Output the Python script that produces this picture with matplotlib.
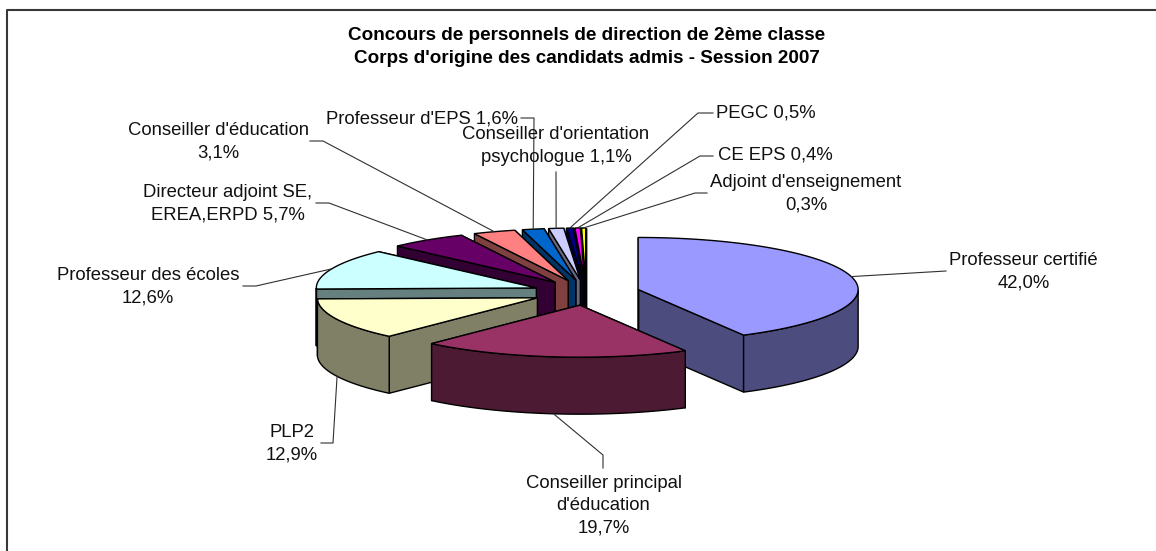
import numpy as np
import matplotlib
matplotlib.use('Agg')
import matplotlib.pyplot as plt
from matplotlib.patches import Polygon

plt.rcParams['font.family'] = ['Liberation Sans', 'DejaVu Sans']

title = "Concours de personnels de direction de 2ème classe\nCorps d'origine des candidats admis - Session 2007"

labels = ["Professeur certifié\n42,0%",
          "Conseiller principal\nd'éducation\n19,7%",
          "PLP2\n12,9%",
          "Professeur des écoles\n12,6%",
          "Directeur adjoint SE,\nEREA,ERPD 5,7%",
          "Conseiller d'éducation\n3,1%",
          "Professeur d'EPS 1,6%",
          "Conseiller d'orientation\npsychologue 1,1%",
          "PEGC 0,5%",
          "CE EPS 0,4%",
          "Adjoint d'enseignement\n0,3%"]
values = [42.0, 19.7, 12.9, 12.6, 5.7, 3.1, 1.6, 1.1, 0.5, 0.4, 0.3]
top_colors = ['#9999FF', '#993366', '#FFFFCC', '#CCFFFF', '#660066', '#FF8080',
              '#0066CC', '#CCCCFF', '#000080', '#FF00FF', '#FFFF00']
side_colors = ['#4C4C7F', '#4D1A33', '#808066', '#668080', '#330033', '#804040',
               '#003366', '#666680', '#000040', '#800080', '#808000']

# label centres and the leader line bends, in pixels
label_pos = [(1023.5, 272), (603.5, 505.5), (292, 443.5), (148, 286.5), (228, 204), (218, 141.5),
             (422, 118.5), (556, 146), (766, 112.5), (775.5, 155.5), (806, 193.5)]
leader_pts = [[(946, 271)], [(603, 455), (603, 468)], [(333, 443), (321, 443)],
              [(256, 286), (243, 286)], [(329, 203), (316, 203)], [(323, 141), (310, 141)],
              [(534, 118), (521, 118)], [(556, 172)], [(698, 113), (713, 113)],
              [(700, 156), (713, 156)], [(695, 193), (707, 193)]]

cx, cy = 586.2, 292.6
rx, ry = 220, 52
depth = 57
explode = 53.6  # along x, scaled by ry/rx on y

fig = plt.figure(figsize=(11.56, 5.51), dpi=100)
ax = fig.add_axes([0, 0, 1, 1])
ax.set_xlim(0, 1156)
ax.set_ylim(551, 0)
ax.axis('off')

# chart border, right and bottom sides are cut off in the original
ax.plot([7, 7, 1156], [551, 10, 10], color='#383838', lw=1.5, clip_on=False)

angles = np.cumsum([0] + values) / sum(values) * 2 * np.pi
edge = dict(edgecolor='black', linewidth=1.0, joinstyle='miter')


def on_rim(x0, y0, a):
    return x0 + rx * np.sin(a), y0 - ry * np.cos(a)


anchors = []
slices = []
for i in range(len(values)):
    a0, a1 = angles[i], angles[i + 1]
    mid = (a0 + a1) / 2
    x0 = cx + explode * np.sin(mid)
    y0 = cy - explode * ry / rx * np.cos(mid)
    slices.append((i, a0, a1, x0, y0))
    ax_, ay_ = on_rim(x0, y0, mid)
    # leader leaves the lower rim when the slice faces the viewer
    anchors.append((ax_, ay_ + depth if np.cos(mid) < 0 else ay_))

# paint from the back: small slices first, the two big front ones last
order = list(range(10, 2, -1)) + [2, 0, 1]
for i in order:
    _, a0, a1, x0, y0 = slices[i]
    t = np.linspace(a0, a1, 120)
    px, py = on_rim(x0, y0, t)
    for a in (a1, a0):
        ex, ey = on_rim(x0, y0, a)
        ax.add_patch(Polygon([(x0, y0), (ex, ey), (ex, ey + depth), (x0, y0 + depth)],
                             facecolor=side_colors[i], **edge))
    front = np.cos(t) <= 0
    if front.any():
        fx, fy = px[front], py[front]
        ax.add_patch(Polygon(np.r_[np.c_[fx, fy], np.c_[fx[::-1], fy[::-1] + depth]],
                             facecolor=side_colors[i], **edge))
    ax.add_patch(Polygon(np.r_[[(x0, y0)], np.c_[px, py]],
                         facecolor=top_colors[i], **edge))

for i, pts in enumerate(leader_pts):
    xs = [anchors[i][0]] + [p[0] for p in pts]
    ys = [anchors[i][1]] + [p[1] for p in pts]
    ax.plot(xs, ys, color='#303030', lw=0.8, zorder=5)

for txt, (x, y) in zip(labels, label_pos):
    ax.text(x, y, txt, ha='center', va='center', fontsize=13.3, color='#111111',
            linespacing=1.42, zorder=6)

ax.text(587, 47, title, ha='center', va='center', fontsize=13.6, fontweight='bold',
        linespacing=1.42, color='black', zorder=6)

fig.savefig('out.png', dpi=100)
